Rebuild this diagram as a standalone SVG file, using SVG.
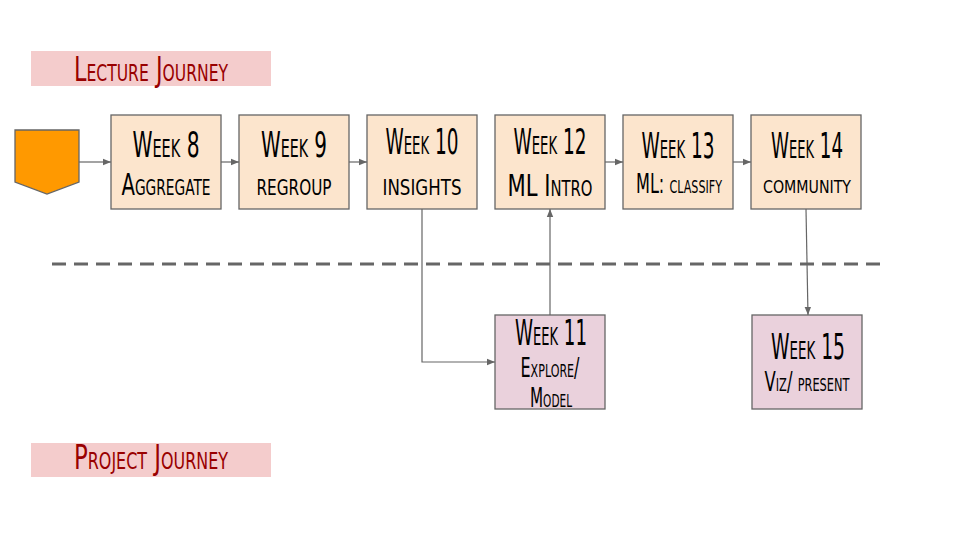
<svg xmlns="http://www.w3.org/2000/svg" width="960" height="540" viewBox="0 0 960 540">
<defs>
<marker id="arr" viewBox="0 0 10 10" refX="10" refY="5" markerWidth="8" markerHeight="8" markerUnits="userSpaceOnUse" orient="auto">
<path d="M0,1 L10,5 L0,9 z" fill="#666666"/>
</marker>
<style>
text{font-family:"DejaVu Sans Condensed","DejaVu Sans",sans-serif;font-stretch:condensed;font-variant:small-caps;text-anchor:middle;fill:#000}
.t{font-size:35px}
.s{font-size:30px}
.m{font-size:26px}
.h{font-size:33px;fill:#990000}
.lec{fill:#fce5cd;stroke:#666666;stroke-width:1.3}
.prj{fill:#ead1dc;stroke:#666666;stroke-width:1.3}
.c{fill:none;stroke:#666666;stroke-width:1.2}
</style>
</defs>
<rect width="960" height="540" fill="#ffffff"/>
<g id="label-lecture">
<rect x="31" y="51" width="240" height="35" fill="#f4cccc"/>
<text class="h" x="151" y="81" textLength="154" lengthAdjust="spacingAndGlyphs">Lecture Journey</text>
</g>
<g id="label-project">
<rect x="31" y="443" width="240" height="34" fill="#f4cccc"/>
<text class="h" x="151" y="469" textLength="154" lengthAdjust="spacingAndGlyphs">Project Journey</text>
</g>
<line id="divider" x1="52" y1="264" x2="884" y2="264" stroke="#666666" stroke-width="3" stroke-dasharray="14,8"/>
<g id="connectors">
<line class="c" x1="79" y1="162" x2="111" y2="162" marker-end="url(#arr)"/>
<line class="c" x1="221" y1="162" x2="239" y2="162" marker-end="url(#arr)"/>
<line class="c" x1="349" y1="162" x2="367" y2="162" marker-end="url(#arr)"/>
<line class="c" x1="605" y1="162" x2="623" y2="162" marker-end="url(#arr)"/>
<line class="c" x1="733" y1="162" x2="751" y2="162" marker-end="url(#arr)"/>
<polyline class="c" points="422,209 422,362 495,362" marker-end="url(#arr)"/>
<line class="c" x1="550" y1="315" x2="550" y2="209" marker-end="url(#arr)"/>
<line class="c" x1="806" y1="209" x2="808" y2="315" marker-end="url(#arr)"/>
</g>
<g id="start">
<path d="M15,130 L79,130 L79,182 L47,194 L15,182 Z" fill="#ff9900" stroke="#666666" stroke-width="1.3"/>
</g>
<g id="week8">
<rect class="lec" x="111" y="115" width="110" height="94"/>
<text class="t" x="166" y="157" textLength="67" lengthAdjust="spacingAndGlyphs">Week 8</text>
<text class="s" x="166" y="195" textLength="89" lengthAdjust="spacingAndGlyphs">Aggregate</text>
</g>
<g id="week9">
<rect class="lec" x="239" y="115" width="110" height="94"/>
<text class="t" x="294" y="157" textLength="66" lengthAdjust="spacingAndGlyphs">Week 9</text>
<text class="s" x="294" y="195" textLength="75" lengthAdjust="spacingAndGlyphs">regroup</text>
</g>
<g id="week10">
<rect class="lec" x="367" y="115" width="110" height="94"/>
<text class="t" x="422" y="154" textLength="73" lengthAdjust="spacingAndGlyphs">Week 10</text>
<text class="s" x="422" y="195" textLength="79" lengthAdjust="spacingAndGlyphs">insights</text>
</g>
<g id="week12">
<rect class="lec" x="495" y="115" width="110" height="94"/>
<text class="t" x="550" y="154" textLength="73" lengthAdjust="spacingAndGlyphs">Week 12</text>
<text class="s" x="550" y="196" textLength="85" lengthAdjust="spacingAndGlyphs">ML Intro</text>
</g>
<g id="week13">
<rect class="lec" x="623" y="115" width="110" height="94"/>
<text class="t" x="678" y="158" textLength="73" lengthAdjust="spacingAndGlyphs">Week 13</text>
<text class="m" x="679" y="193" textLength="86" lengthAdjust="spacingAndGlyphs">ML: classify</text>
</g>
<g id="week14">
<rect class="lec" x="751" y="115" width="110" height="94"/>
<text class="t" x="807" y="158" textLength="72" lengthAdjust="spacingAndGlyphs">Week 14</text>
<text class="m" x="807" y="193" textLength="88" lengthAdjust="spacingAndGlyphs">community</text>
</g>
<g id="week11">
<rect class="prj" x="495" y="315" width="110" height="94"/>
<text class="t" x="551" y="345" textLength="72" lengthAdjust="spacingAndGlyphs">Week 11</text>
<text class="m" x="550" y="377" textLength="59" lengthAdjust="spacingAndGlyphs">Explore/</text>
<text class="m" x="551" y="407" textLength="42" lengthAdjust="spacingAndGlyphs">Model</text>
</g>
<g id="week15">
<rect class="prj" x="752" y="315" width="110" height="94"/>
<text class="t" x="808" y="359" textLength="74" lengthAdjust="spacingAndGlyphs">Week 15</text>
<text class="m" x="807" y="391" textLength="85" lengthAdjust="spacingAndGlyphs">Viz/ present</text>
</g>
</svg>
